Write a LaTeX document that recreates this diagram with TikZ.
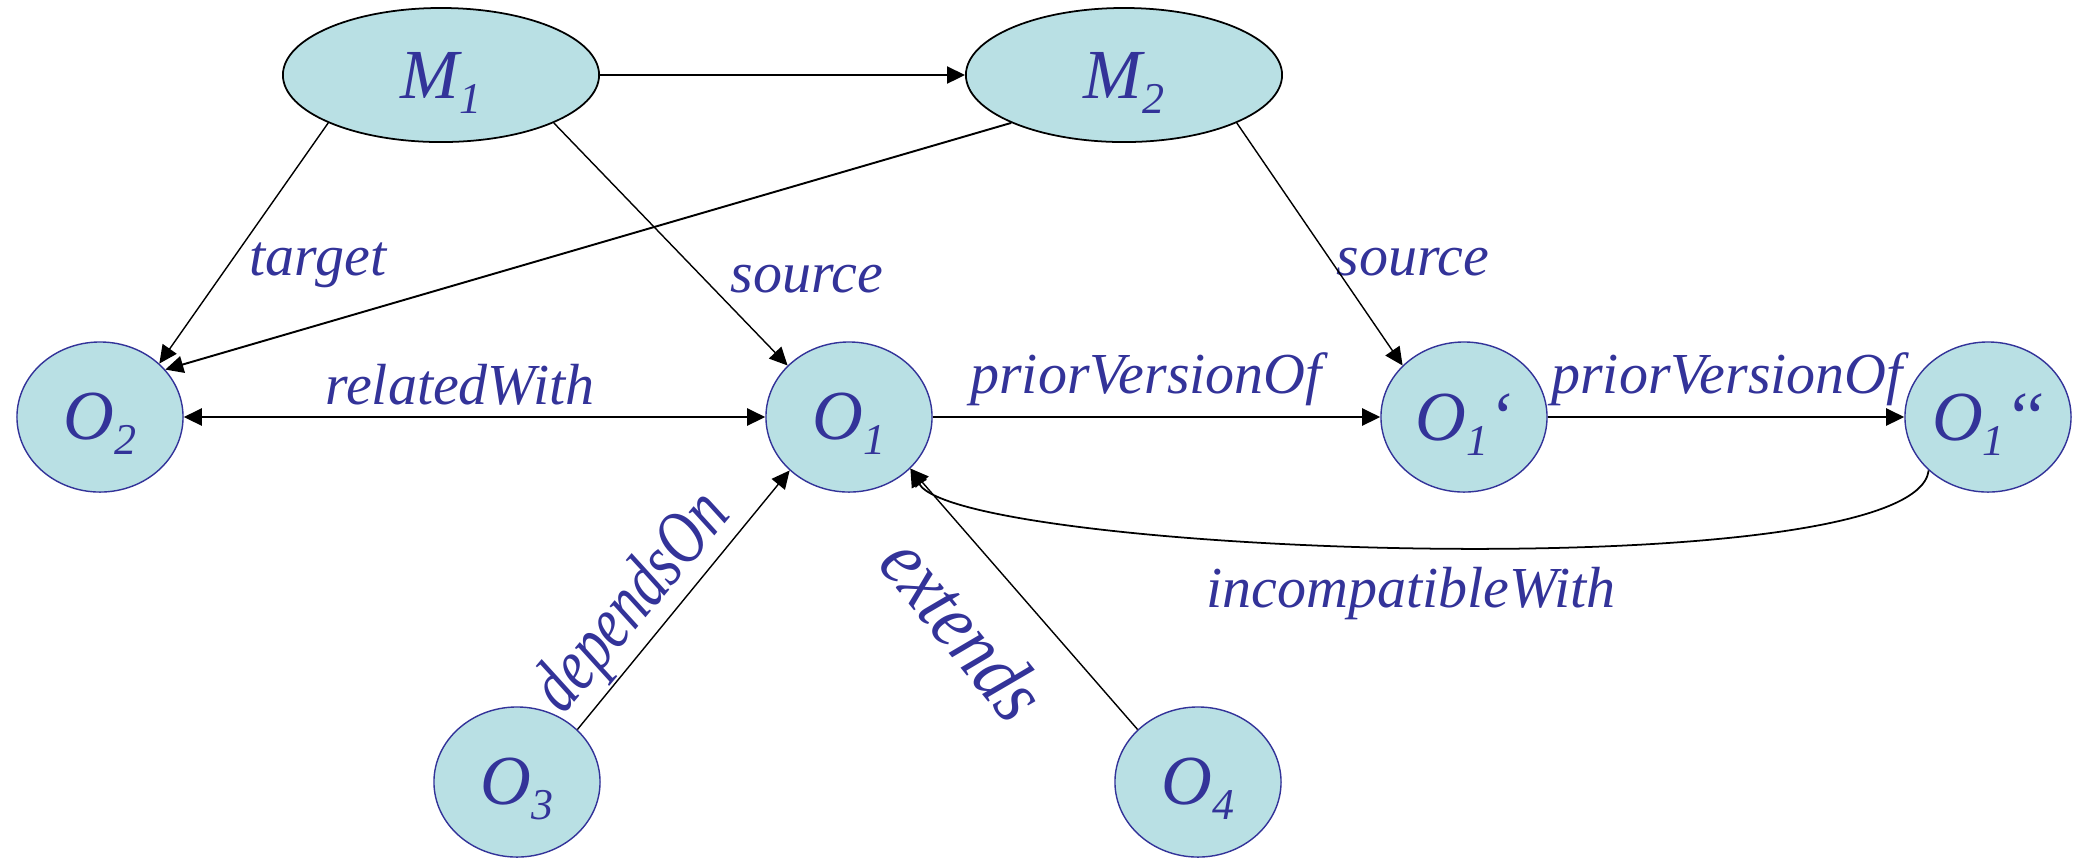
\documentclass[tikz,border=0pt]{standalone}
\usepackage{fontspec}
\setmainfont{Liberation Serif}
\usepackage{tikz}
\usetikzlibrary{shapes.geometric, arrows.meta}
\definecolor{objblue}{RGB}{51,51,153}
\definecolor{objfill}{RGB}{185,224,228}
\newcommand{\objname}[2]{#1\raisebox{-0.15cm}[0pt][0pt]{\fontsize{12.5}{12.5}\selectfont #2}}

\begin{document}
\begin{tikzpicture}[x=0.01cm, y=-0.01cm,
	mapnode/.style={ellipse, draw=black, line width=0.5pt, fill=objfill, minimum width=3.16cm, minimum height=1.34cm, inner sep=0pt, text=objblue, font=\fontsize{20}{20}\selectfont\itshape},
	ontnode/.style={mapnode, draw=objblue, line width=0.4pt, minimum width=1.66cm, minimum height=1.5cm},
	relname/.style={text=objblue, font=\fontsize{16.5}{16.5}\selectfont\itshape, inner sep=0pt, anchor=base},
	relarrow/.style={-{Triangle[length=0.18cm,width=0.17cm]}, line width=0.4pt},
	]
			\useasboundingbox (0,0) rectangle (2074,859);
			\node[mapnode] (m1) at (441,75) {\objname{M}{1}};
			\node[mapnode] (m2) at (1124,75) {\objname{M}{2}};
			\node[ontnode] (o2) at (100,417) {\objname{O}{2}};
			\node[ontnode] (o1) at (849,417) {\objname{O}{1}};
			\node[ontnode] (o1a) at (1464,417) {\objname{O}{1}‘};
			\node[ontnode] (o1b) at (1988,417) {\objname{O}{1}‘‘};
			\node[ontnode] (o3) at (517,782) {\objname{O}{3}};
			\node[ontnode] (o4) at (1198,782) {\objname{O}{4}};
			\node[relname] (ltarget) at (318,275) {target};
			\node[relname] (lsource) at (807,292) {source};
			\node[relname] (lsourcetwo) at (1413,275) {source};
			\node[relname] (lrelated) at (460,404) {relatedWith};
			\node[relname] (lprior) at (1146,393) {priorVersionOf};
			\node[relname] (lpriortwo) at (1727,393) {priorVersionOf};
			\node[relname] (lincomp) at (1411,607) {incompatibleWith};
			\node[relname, anchor=center, rotate=50] (ldepends) at (634,604) {\scalebox{1}[1.3]{dependsOn}};
			\node[relname, anchor=center, rotate=-51] (lextends) at (964,628) {\scalebox{1.2}[1.4]{extends}};
			\draw [relarrow, line width=0.6pt] (m1) to (m2);
			\draw [relarrow] (m1.203) to (o2.42);
			\draw [relarrow, line width=0.55pt] (m2.203) to (o2.36);
			\draw [relarrow] (m1.337) to (o1.140);
			\draw [relarrow] (m2.337) to (o1a.140);
			\draw [relarrow, {Triangle[length=0.18cm,width=0.17cm]}-{Triangle[length=0.18cm,width=0.17cm]}, line width=0.6pt] (o2) to (o1);
			\draw [relarrow, line width=0.6pt] (o1) to (o1a);
			\draw [relarrow, line width=0.6pt] (o1a) to (o1b);
			\draw [relarrow, line width=0.5pt] (o1b.222) .. controls (1915,590) and (960,555) .. (o1.320);
			\draw [relarrow] (o3.41) to (o1.222);
			\draw [relarrow] (o4.139) to (o1.320);
\end{tikzpicture}
\end{document}
